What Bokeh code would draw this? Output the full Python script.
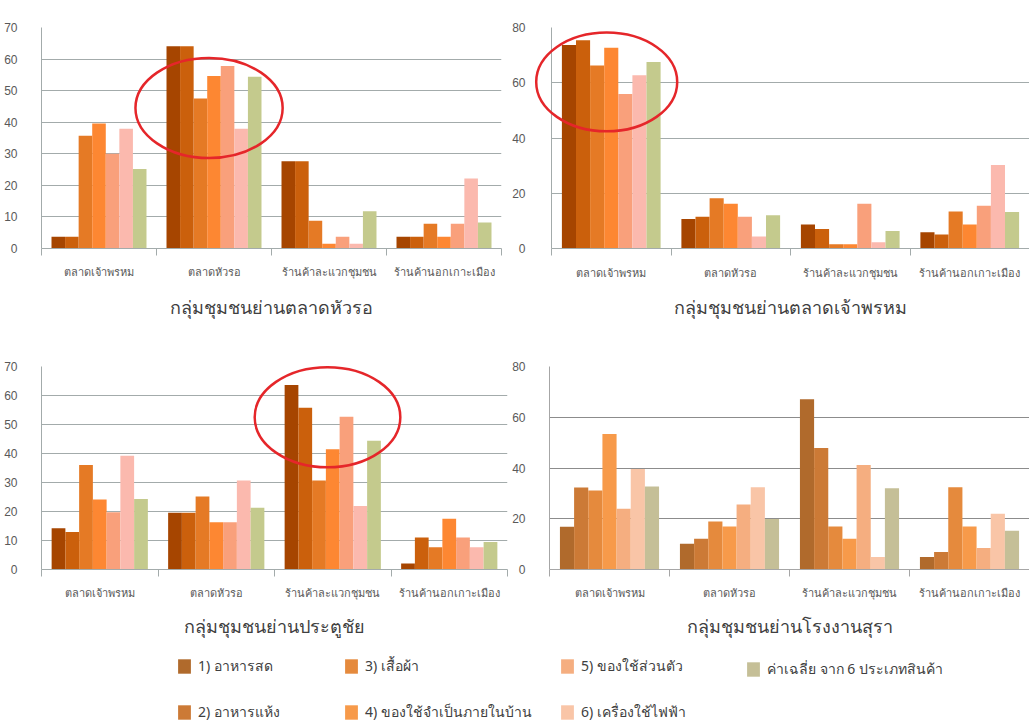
from bokeh.plotting import figure
from bokeh.layouts import column, row
from bokeh.models import (ColumnDataSource, Range1d, LinearAxis, FixedTicker,
                          SingleIntervalTicker, Legend, LegendItem)
from bokeh.transform import dodge
from bokeh.embed import file_html
from bokeh.resources import INLINE

# ---------------- data ----------------
places = ["ตลาดเจ้าพรหม", "ตลาดหัวรอ", "ร้านค้าละแวกชุมชน", "ร้านค้านอกเกาะเมือง"]
series_names = ["1) อาหารสด", "2) อาหารแห้ง", "3) เสื้อผ้า", "4) ของใช้จำเป็นภายในบ้าน",
                "5) ของใช้ส่วนตัว", "6) เครื่องใช้ไฟฟ้า", "ค่าเฉลี่ย จาก 6 ประเภทสินค้า"]
chart_titles = ["กลุ่มชุมชนย่านตลาดหัวรอ", "กลุ่มชุมชนย่านตลาดเจ้าพรหม",
                "กลุ่มชุมชนย่านประตูชัย", "กลุ่มชุมชนย่านโรงงานสุรา"]

# values per place (7 series each)
huaro_jaophrom = [3.7, 3.7, 35.7, 39.6, 30.0, 37.9, 25.2]
huaro_huaro = [64.1, 64.1, 47.5, 54.6, 57.8, 37.9, 54.4]
huaro_local = [27.6, 27.6, 8.8, 1.5, 3.7, 1.5, 11.8]
huaro_outside = [3.7, 3.7, 7.8, 3.7, 7.8, 22.2, 8.2]

jaophrom_jaophrom = [73.7, 75.4, 66.2, 72.7, 55.9, 62.7, 67.5]
jaophrom_huaro = [10.7, 11.5, 18.2, 16.2, 11.5, 4.3, 12.0]
jaophrom_local = [8.7, 7.1, 1.5, 1.5, 16.2, 2.3, 6.3]
jaophrom_outside = [5.9, 5.1, 13.4, 8.7, 15.5, 30.2, 13.2]

pratuchai_jaophrom = [14.2, 12.9, 36.0, 24.1, 19.7, 39.2, 24.3]
pratuchai_huaro = [19.6, 19.6, 25.2, 16.3, 16.3, 30.7, 21.3]
pratuchai_local = [63.6, 55.8, 30.7, 41.5, 52.7, 21.9, 44.4]
pratuchai_outside = [2.1, 11.0, 7.7, 17.5, 11.0, 7.7, 9.5]

sura_jaophrom = [16.8, 32.3, 31.1, 53.4, 23.9, 39.6, 32.7]
sura_huaro = [10.1, 12.1, 18.9, 16.9, 25.6, 32.4, 19.9]
sura_local = [67.1, 47.9, 16.9, 12.1, 41.2, 4.9, 32.0]
sura_outside = [4.9, 6.9, 32.4, 16.9, 8.5, 22.0, 15.3]

y_max = [70, 80, 70, 80]
y_step = [10, 20, 10, 20]

colors_a = ["#A64500", "#CB600C", "#E57A25", "#FD8732", "#F9A07B", "#FBB9AE", "#C4CA8D"]
colors_b = ["#B06A2C", "#CC7A36", "#E58A3D", "#F79A4A", "#F5AE80", "#F9C5A7", "#C5BF97"]

# ---------------- builder ----------------
THAI = "Noto Sans"
BW = 0.118
centers = [i + 0.5 for i in range(len(places))]      # category slots on the x scale
bounds = list(range(len(places) + 1))                  # slot separators


def make_chart(title, rows, ymax, ystep, colors, width, height, borders,
               label_standoff, title_standoff, ystand, grid_color, axis_color,
               grid_ticks=None, circle=None):
    left, right, top, bottom = borders
    p = figure(x_range=Range1d(0, len(places)), y_range=Range1d(0, ymax),
               width=width, height=height, toolbar_location=None, output_backend="svg",
               x_axis_location=None, min_border_left=left, min_border_right=right,
               min_border_top=top, min_border_bottom=bottom)
    p.outline_line_color = None
    p.background_fill_color = "white"
    p.xgrid.visible = False
    p.ygrid.grid_line_color = grid_color
    p.ygrid.grid_line_width = 1.2
    if grid_ticks is not None:
        p.ygrid.ticker = FixedTicker(ticks=grid_ticks)

    ya = p.yaxis[0]
    ya.ticker = SingleIntervalTicker(interval=ystep)
    ya.major_tick_line_color = None
    ya.minor_tick_line_color = None
    ya.axis_line_color = axis_color
    ya.major_label_standoff = ystand
    ya.major_label_text_font = "Liberation Sans"
    ya.major_label_text_font_size = "12px"
    ya.major_label_text_color = "#595959"

    data = {"place": places, "center": centers}
    for k in range(len(series_names)):
        data[f"s{k}"] = [r[k] for r in rows]
    src = ColumnDataSource(data)
    n = len(series_names)
    for k in range(n):
        p.vbar(x=dodge("center", (k - (n - 1) / 2) * BW), top=f"s{k}",
               width=BW, source=src, fill_color=colors[k], line_color=None)

    xa = LinearAxis(ticker=FixedTicker(ticks=centers, minor_ticks=bounds),
                    major_label_overrides={c: name for c, name in zip(centers, places)})
    xa.major_tick_out = 0
    xa.major_tick_in = 0
    xa.major_tick_line_color = None
    xa.minor_tick_out = 7
    xa.minor_tick_in = 0
    xa.minor_tick_line_color = axis_color
    xa.axis_line_color = axis_color
    xa.major_label_standoff = label_standoff
    xa.major_label_text_font = THAI
    xa.major_label_text_font_size = "11px"
    xa.major_label_text_color = "#595959"
    xa.axis_label = title
    xa.axis_label_standoff = title_standoff
    xa.axis_label_text_font = THAI
    xa.axis_label_text_font_style = "normal"
    xa.axis_label_text_font_size = "18px"
    xa.axis_label_text_color = "#404040"
    p.add_layout(xa, "below")

    if circle is not None:
        idx, off, cy, cw, ch = circle
        csrc = ColumnDataSource(dict(x=[centers[idx]], y=[cy], w=[cw], h=[ch]))
        p.ellipse(x=dodge("x", off), y="y", width="w", height="h",
                  source=csrc, fill_color=None, line_color="#E5262A", line_width=2.5,
                  level="overlay")
    return p


tl = make_chart(chart_titles[0], [huaro_jaophrom, huaro_huaro, huaro_local, huaro_outside],
                y_max[0], y_step[0], colors_a, 509, 321, (41, 8, 27, 73), 8, 13, 18,
                "#A3ABAB", "#A3ABAB", circle=(1, -0.043, 44.5, 1.28, 31.7))
tr = make_chart(chart_titles[1], [jaophrom_jaophrom, jaophrom_huaro, jaophrom_local, jaophrom_outside],
                y_max[1], y_step[1], colors_a, 520, 321, (35, 0, 27, 73), 9, 12, 20,
                "#A3ABAB", "#A3ABAB", circle=(0, -0.038, 60.3, 1.18, 35.8))
bl = make_chart(chart_titles[2], [pratuchai_jaophrom, pratuchai_huaro, pratuchai_local, pratuchai_outside],
                y_max[2], y_step[2], colors_a, 509, 320, (41, 2, 45, 72), 8, 11, 18,
                "#A3ABAB", "#A3ABAB", circle=(2, -0.045, 52.5, 1.25, 34.5))
br = make_chart(chart_titles[3], [sura_jaophrom, sura_huaro, sura_local, sura_outside],
                y_max[3], y_step[3], colors_b, 520, 320, (35, 0, 45, 72), 8, 11, 18,
                "#8C8C8C", "#A6A6A6", grid_ticks=[20, 40, 60])

# ---------------- legend ----------------
LG_H = 82
lg = figure(width=1029, height=LG_H, toolbar_location=None, output_backend="svg",
            x_range=Range1d(0, 1), y_range=Range1d(0, 1),
            x_axis_location=None, y_axis_location=None, min_border=0)
lg.outline_line_color = None
lg.xgrid.visible = False
lg.ygrid.visible = False
# swatch renderers: zero-height bars, only their legend swatches are visible
rends = [lg.vbar(x=[0.5], top=[0], bottom=[0], width=0, fill_color=c, line_color=None)
         for c in colors_b]

col_x = [176, 343, 559, 745]
groups = [[0, 1], [2, 3], [4, 5], [6]]
ITEM_H, GAP = 19, 24
for gx, g in zip(col_x, groups):
    items = [LegendItem(label=series_names[k], renderers=[rends[k]]) for k in g]
    h = ITEM_H * len(g) + GAP * (len(g) - 1)
    leg = Legend(items=items, location=(gx, (ITEM_H * 2 + GAP) - h), orientation="vertical",
                 glyph_width=16, glyph_height=18, label_height=ITEM_H, label_standoff=6,
                 spacing=GAP, padding=0, margin=0, border_line_color=None,
                 background_fill_alpha=0, label_text_font=THAI,
                 label_text_font_size="14px", label_text_color="#404040")
    lg.add_layout(leg)

layout = column(row(tl, tr), row(bl, br), lg)
open("out.html", "w").write(file_html(layout, INLINE))
